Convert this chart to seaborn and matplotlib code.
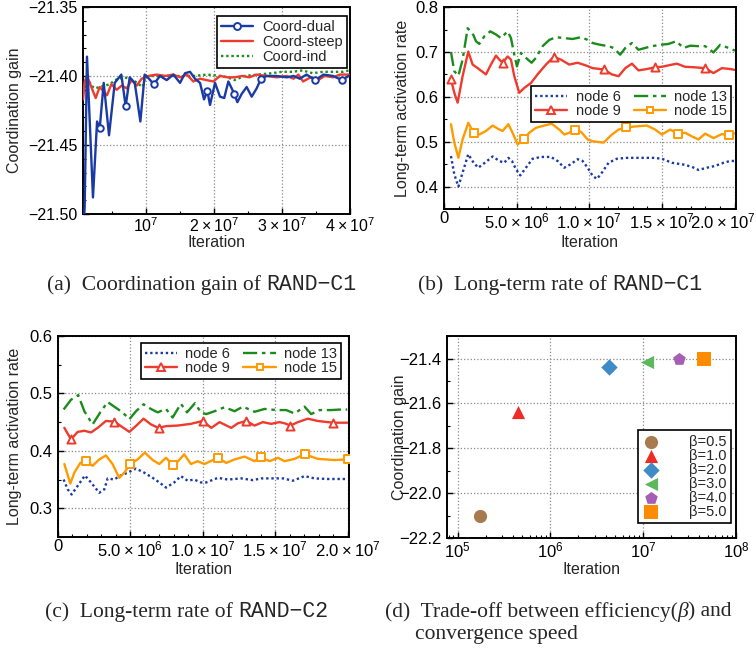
import numpy as np
import pandas as pd
import matplotlib
matplotlib.use('Agg')
import matplotlib.pyplot as plt
import matplotlib.ticker as mticker
import matplotlib.transforms as mtransforms
from matplotlib.lines import Line2D
import seaborn as sns

# ---- (a) coordination gain of RAND-C1, x in units of 1e7 ----
dual_x = [0.08, 0.098, 0.132, 0.22, 0.28, 0.319, 0.378, 0.456, 0.54, 0.637,
          0.701, 0.76, 0.834, 0.917, 0.98, 1.044, 1.113, 1.206, 1.304, 1.402,
          1.5, 1.574, 1.647, 1.72, 1.794, 1.853, 1.902, 1.941, 2.015, 2.088,
          2.15, 2.211, 2.299, 2.343, 2.407, 2.48, 2.554, 2.627, 2.691, 2.775,
          2.92, 3.07, 3.17, 3.26, 3.36, 3.49, 3.61, 3.75, 3.88, 3.98]
dual_y = [-21.51, -21.495, -21.386, -21.488, -21.433, -21.438, -21.405, -21.443, -21.405, -21.399,
          -21.422, -21.401, -21.405, -21.433, -21.399, -21.402, -21.406, -21.400, -21.403, -21.399,
          -21.405, -21.398, -21.397, -21.402, -21.405, -21.417, -21.411, -21.421, -21.405, -21.415,
          -21.416, -21.404, -21.413, -21.419, -21.413, -21.408, -21.415, -21.409, -21.402, -21.400,
          -21.400, -21.401, -21.400, -21.402, -21.399, -21.403, -21.399, -21.400, -21.403, -21.400]
dual_marks = [0.319, 0.701, 1.113, 1.902, 2.299, 2.691, 3.49, 3.88]

steep_x = [0.075, 0.098, 0.132, 0.18, 0.26, 0.319, 0.426, 0.49, 0.569, 0.642,
           0.716, 0.789, 0.863, 0.936, 1.034, 1.157, 1.28, 1.402, 1.5, 1.6,
           1.696, 1.794, 1.892, 1.99, 2.088, 2.2, 2.3, 2.42, 2.52, 2.627,
           2.775, 2.92, 3.07, 3.17, 3.24, 3.31, 3.42, 3.53, 3.63, 3.75, 3.85, 3.98]
steep_y = [-21.417, -21.404, -21.400, -21.406, -21.416, -21.408, -21.414, -21.406, -21.410, -21.407,
           -21.409, -21.403, -21.407, -21.402, -21.400, -21.399, -21.400, -21.399, -21.401, -21.399,
           -21.404, -21.402, -21.403, -21.404, -21.400, -21.401, -21.401, -21.400, -21.401, -21.399,
           -21.400, -21.401, -21.400, -21.402, -21.399, -21.404, -21.401, -21.403, -21.400, -21.401,
           -21.399, -21.399]

ind_x = [0.075, 0.098, 0.132, 0.196, 0.245, 0.32, 0.47, 0.54, 0.61, 0.68,
         0.76, 0.84, 0.95, 0.99, 1.1, 1.3, 1.5, 1.7, 1.9, 2.1,
         2.2, 2.3, 2.45, 2.65, 2.85, 3.0, 3.15, 3.3, 3.45, 3.6, 3.75, 3.9, 3.98]
ind_y = [-21.412, -21.410, -21.401, -21.407, -21.409, -21.408, -21.406, -21.403, -21.402, -21.401,
         -21.402, -21.404, -21.408, -21.401, -21.400, -21.400, -21.400, -21.400, -21.399, -21.400,
         -21.401, -21.403, -21.400, -21.399, -21.398, -21.397, -21.397, -21.396, -21.398, -21.397,
         -21.397, -21.397, -21.396]

# ---- (b) long-term rate of RAND-C1, x in units of 1e6 ----
b6_x = [0.48, 0.71, 0.99, 1.28, 1.67, 2.04, 2.36, 2.89, 3.35, 3.81,
        4.15, 4.43, 4.68, 4.95, 5.25, 5.64, 6.1, 6.67, 7.36, 7.82,
        8.28, 8.74, 9.2, 9.54, 9.89, 10.23, 10.53, 10.87, 11.33, 11.9,
        12.59, 13.51, 14.42, 15.0, 15.69, 16.49, 17.06, 17.52, 18.1, 18.67,
        19.24, 19.7, 20.05]
b6_y = [0.468, 0.427, 0.40, 0.431, 0.472, 0.453, 0.442, 0.455, 0.467, 0.457,
        0.453, 0.464, 0.457, 0.439, 0.425, 0.442, 0.462, 0.466, 0.466, 0.457,
        0.442, 0.45, 0.461, 0.457, 0.442, 0.424, 0.417, 0.431, 0.453, 0.462,
        0.464, 0.464, 0.464, 0.462, 0.453, 0.449, 0.444, 0.437, 0.442, 0.446,
        0.453, 0.457, 0.457]

b9_x = [0.48, 0.71, 0.94, 1.28, 1.67, 1.97, 2.32, 2.89, 3.23, 3.58,
        3.81, 4.04, 4.38, 4.61, 4.84, 5.18, 5.53, 5.99, 6.44, 7.02,
        7.55, 8.05, 8.62, 9.2, 9.77, 10.23, 10.99, 11.56, 12.02, 12.48,
        12.94, 13.39, 13.97, 14.54, 15.0, 15.57, 16.03, 16.6, 17.18, 17.98,
        18.55, 19.13, 19.7, 20.05]
b9_y = [0.639, 0.609, 0.587, 0.646, 0.701, 0.672, 0.664, 0.65, 0.672, 0.692,
        0.683, 0.676, 0.69, 0.683, 0.646, 0.609, 0.62, 0.631, 0.65, 0.672,
        0.689, 0.683, 0.672, 0.676, 0.67, 0.664, 0.661, 0.65, 0.646, 0.664,
        0.674, 0.659, 0.662, 0.666, 0.667, 0.671, 0.674, 0.667, 0.666, 0.664,
        0.653, 0.664, 0.662, 0.66]
b9_marks = [0.48, 4.04, 7.55, 10.99, 14.54, 17.98]

b13_x = [0.48, 0.71, 0.99, 1.28, 1.63, 2.02, 2.2, 2.43, 2.78, 3.19,
         3.58, 3.92, 4.38, 4.61, 4.84, 5.02, 5.3, 5.6, 6.03, 6.33,
         6.79, 7.25, 7.71, 8.28, 8.85, 9.43, 9.89, 10.23, 10.76, 11.33,
         11.67, 12.13, 12.48, 12.94, 13.39, 13.85, 14.31, 14.88, 15.46, 15.99,
         16.49, 16.95, 17.52, 17.98, 18.55, 19.01, 19.59, 20.05]
b13_y = [0.700, 0.657, 0.647, 0.683, 0.753, 0.738, 0.724, 0.718, 0.735, 0.746,
         0.739, 0.731, 0.746, 0.731, 0.694, 0.668, 0.698, 0.688, 0.676, 0.687,
         0.713, 0.727, 0.733, 0.731, 0.729, 0.733, 0.727, 0.72, 0.716, 0.713,
         0.709, 0.694, 0.709, 0.72, 0.705, 0.709, 0.713, 0.716, 0.718, 0.724,
         0.709, 0.714, 0.713, 0.713, 0.699, 0.716, 0.709, 0.703]

b15_x = [0.48, 0.71, 0.99, 1.28, 1.67, 2.04, 2.43, 2.89, 3.35, 3.81,
         4.04, 4.43, 4.72, 5.07, 5.53, 5.87, 6.33, 6.9, 7.41, 7.94,
         8.28, 8.62, 9.04, 9.43, 9.89, 10.23, 10.99, 11.56, 12.02, 12.55,
         13.17, 13.97, 14.54, 15.0, 15.57, 16.08, 16.6, 17.06, 17.52, 17.98,
         18.55, 19.13, 19.59, 20.05]
b15_y = [0.539, 0.498, 0.464, 0.505, 0.542, 0.52, 0.516, 0.524, 0.536, 0.527,
         0.524, 0.539, 0.52, 0.494, 0.507, 0.52, 0.531, 0.536, 0.54, 0.527,
         0.516, 0.52, 0.527, 0.522, 0.505, 0.501, 0.498, 0.516, 0.527, 0.532,
         0.534, 0.536, 0.527, 0.516, 0.527, 0.518, 0.52, 0.512, 0.505, 0.518,
         0.508, 0.517, 0.514, 0.519]
b15_marks = [2.04, 5.53, 9.04, 12.55, 16.08, 19.59]

# ---- (c) long-term rate of RAND-C2, x in units of 1e6 ----
c6_x = [0.39, 0.67, 0.94, 1.36, 1.86, 2.28, 2.85, 3.2, 3.43, 3.89,
        4.23, 4.81, 5.39, 5.96, 6.54, 7.0, 7.46, 8.03, 8.49, 8.95,
        9.41, 9.87, 10.24, 11.05, 11.74, 12.66, 13.46, 14.04, 14.73, 15.54,
        16.23, 17.03, 17.72, 18.64, 19.98]
c6_y = [0.35, 0.333, 0.324, 0.339, 0.357, 0.345, 0.327, 0.333, 0.352, 0.35,
        0.356, 0.362, 0.369, 0.362, 0.353, 0.345, 0.336, 0.345, 0.356, 0.348,
        0.35, 0.345, 0.345, 0.353, 0.35, 0.352, 0.349, 0.352, 0.352, 0.352,
        0.348, 0.356, 0.352, 0.351, 0.351]

c9_x = [0.44, 0.9, 1.36, 1.82, 2.28, 2.74, 3.31, 3.89, 4.35, 4.93,
        5.5, 5.91, 6.42, 6.95, 7.46, 8.26, 9.18, 9.99, 10.59, 11.16,
        11.97, 12.43, 13.0, 13.58, 14.15, 14.73, 15.3, 15.65, 16.06, 16.57,
        17.26, 17.95, 18.99, 19.98]
c9_y = [0.44, 0.42, 0.433, 0.435, 0.432, 0.44, 0.452, 0.451, 0.443, 0.433,
        0.446, 0.456, 0.446, 0.44, 0.443, 0.444, 0.447, 0.452, 0.44, 0.45,
        0.44, 0.448, 0.452, 0.444, 0.45, 0.447, 0.45, 0.448, 0.444, 0.45,
        0.456, 0.452, 0.449, 0.449]
c9_marks = [0.9, 3.89, 6.95, 9.99, 13.0, 16.06, 18.99]

c13_x = [0.39, 0.9, 1.4, 1.82, 2.39, 2.92, 3.43, 4.0, 4.46, 4.93,
         5.39, 5.91, 6.42, 6.88, 7.46, 7.92, 8.49, 8.91, 9.46, 9.87,
         10.24, 10.82, 11.51, 12.2, 12.77, 13.58, 14.27, 15.07, 15.77, 16.34,
         17.03, 17.49, 18.07, 18.87, 19.56, 19.98]
c13_y = [0.472, 0.489, 0.497, 0.469, 0.446, 0.467, 0.485, 0.475, 0.467, 0.455,
         0.469, 0.481, 0.473, 0.467, 0.473, 0.458, 0.482, 0.467, 0.483, 0.467,
         0.464, 0.469, 0.476, 0.469, 0.477, 0.468, 0.473, 0.471, 0.471, 0.465,
         0.477, 0.464, 0.471, 0.471, 0.472, 0.472]

c15_x = [0.44, 0.85, 1.13, 1.54, 1.93, 2.39, 2.85, 3.31, 3.77, 4.23,
         4.58, 5.0, 5.5, 6.0, 6.54, 7.0, 7.46, 7.96, 8.3, 8.72,
         9.18, 9.64, 10.12, 11.05, 11.62, 12.2, 12.89, 13.58, 13.99, 14.62,
         15.19, 15.65, 16.34, 17.03, 17.95, 19.1, 20.02]
c15_y = [0.377, 0.343, 0.362, 0.379, 0.382, 0.374, 0.385, 0.392, 0.377, 0.353,
         0.362, 0.377, 0.385, 0.397, 0.384, 0.377, 0.388, 0.375, 0.382, 0.394,
         0.377, 0.382, 0.377, 0.388, 0.379, 0.385, 0.39, 0.382, 0.389, 0.382,
         0.388, 0.382, 0.386, 0.394, 0.386, 0.384, 0.385]
c15_marks = [1.93, 5.0, 7.96, 11.05, 13.99, 17.03, 20.02]

# ---- (d) trade-off ----
beta_labels = ['β=0.5', 'β=1.0', 'β=2.0', 'β=3.0', 'β=4.0', 'β=5.0']
beta_iter = [1.76e5, 4.5e5, 4.27e6, 1.1e7, 2.43e7, 4.48e7]
beta_gain = [-22.10, -21.637, -21.439, -21.413, -21.403, -21.400]
beta_markers = ['o', '^', 'D', '<', 'p', 's']
beta_colors = ['#a87b4f', '#ee2b24', '#3d8cc8', '#5cb85c', '#a45fb5', '#ff8c00']

BLUE = '#1a3aa5'
RED = '#ee3b2e'
GREEN = '#1b8c1b'
ORANGE = '#ff9a00'
DOTS = (0, (1, 1.2))
DASHDOT = (0, (6, 2, 1.5, 2))

sns.set_theme(style='ticks')
plt.rcParams.update({
    'xtick.direction': 'in', 'ytick.direction': 'in',
    'xtick.major.size': 4, 'ytick.major.size': 4,
    'xtick.minor.size': 2.5, 'ytick.minor.size': 2.5,
    'xtick.major.width': 1.0, 'ytick.major.width': 1.0,
    'xtick.minor.width': 0.8, 'ytick.minor.width': 0.8,
    'xtick.labelsize': 12, 'ytick.labelsize': 12,
    'axes.labelsize': 11.5, 'axes.linewidth': 1.4,
    'axes.edgecolor': 'black', 'xtick.color': 'black', 'ytick.color': 'black',
    'mathtext.default': 'regular', 'legend.fontsize': 10.5,
})
plt.rcParams['font.family'] = ['Liberation Sans', 'DejaVu Sans']


def draw_series(ax, xs, ys, scale, color, ls, marks=None, marker=None, ms=26, z=2):
    df = pd.DataFrame({'x': np.array(xs) * scale, 'y': ys})
    sns.lineplot(data=df, x='x', y='y', ax=ax, color=color, linestyle=ls,
                 linewidth=1.7, estimator=None, sort=False, zorder=z)
    if marks is not None:
        sub = df[np.isin(xs, marks)]
        sns.scatterplot(data=sub, x='x', y='y', ax=ax, marker=marker, s=ms,
                        facecolor='white', edgecolor=color, linewidth=1.4, zorder=z + 1)


def proxy(color, ls, marker=None, ms=5.5):
    return Line2D([], [], color=color, linestyle=ls, linewidth=1.7, marker=marker,
                  markersize=ms, markerfacecolor='white', markeredgecolor=color,
                  markeredgewidth=1.4)


def style_legend(leg):
    leg.get_frame().set_edgecolor('black')
    leg.get_frame().set_linewidth(1.2)
    leg.get_frame().set_boxstyle('square', pad=0)


def fmt_minus(fmt):
    return mticker.FuncFormatter(lambda v, p: (fmt % v).replace('-', '\u2212'))


fig = plt.figure(figsize=(7.56, 6.49), dpi=100)
ax_a = fig.add_axes([0.1098, 0.6703, 0.3532, 0.319])
ax_b = fig.add_axes([0.5873, 0.678, 0.3862, 0.311])
ax_c = fig.add_axes([0.0767, 0.1726, 0.3849, 0.3097])
ax_d = fig.add_axes([0.5913, 0.171, 0.3823, 0.311])

for ax in (ax_a, ax_b, ax_c, ax_d):
    ax.grid(True, which='major', linestyle=':', color='#8a8a8a', linewidth=0.9)
    ax.set_axisbelow(True)

# (a)
draw_series(ax_a, ind_x, ind_y, 1e7, GREEN, DOTS, z=2)
draw_series(ax_a, steep_x, steep_y, 1e7, RED, '-', z=3)
draw_series(ax_a, dual_x, dual_y, 1e7, BLUE, '-', dual_marks, 'o', ms=22, z=4)
ax_a.set_xlim(7.35e5, 4e7)
ax_a.set_ylim(-21.50, -21.35)
ax_a.set_xticks([1e7, 2e7, 3e7, 4e7])
ax_a.set_xticklabels([r'$10^7$', r'$2\times10^7$', r'$3\times10^7$', r'$4\times10^7$'])
ax_a.xaxis.set_minor_locator(mticker.FixedLocator([5e6, 1.5e7, 2.5e7, 3.5e7]))
ax_a.set_yticks([-21.50, -21.45, -21.40, -21.35])
ax_a.yaxis.set_major_formatter(fmt_minus('%.2f'))
ax_a.yaxis.set_minor_locator(mticker.MultipleLocator(0.01))
ax_a.tick_params(labelsize=11.5)
ax_a.set_xlabel('Iteration')
ax_a.set_ylabel('Coordination gain')
ax_a.yaxis.set_label_coords(-0.228, 0.5)
ax_a.xaxis.set_label_coords(0.5, -0.101)
leg = ax_a.legend([proxy(BLUE, '-', 'o', 5), proxy(RED, '-'), proxy(GREEN, DOTS)],
                  ['Coord-dual', 'Coord-steep', 'Coord-ind'],
                  loc='upper right', bbox_to_anchor=(0.989, 0.957), borderaxespad=0,
                  handlelength=2.2, handletextpad=0.6, labelspacing=0.05,
                  borderpad=0.3, fancybox=False, framealpha=1)
style_legend(leg)

# (b)
draw_series(ax_b, b6_x, b6_y, 1e6, BLUE, DOTS)
draw_series(ax_b, b15_x, b15_y, 1e6, ORANGE, '-', b15_marks, 's', ms=30)
draw_series(ax_b, b9_x, b9_y, 1e6, RED, '-', b9_marks, '^', ms=34)
draw_series(ax_b, b13_x, b13_y, 1e6, GREEN, DASHDOT)

# (c)
draw_series(ax_c, c6_x, c6_y, 1e6, BLUE, DOTS)
draw_series(ax_c, c15_x, c15_y, 1e6, ORANGE, '-', c15_marks, 's', ms=30)
draw_series(ax_c, c9_x, c9_y, 1e6, RED, '-', c9_marks, '^', ms=34)
draw_series(ax_c, c13_x, c13_y, 1e6, GREEN, DASHDOT)

node_handles = [proxy(BLUE, DOTS), proxy(RED, '-', '^'), proxy(GREEN, DASHDOT), proxy(ORANGE, '-', 's', 5)]
node_labels = ['node 6', 'node 9', 'node 13', 'node 15']
sci = lambda a, b: r'$%s\times10^%d$' % (a, b)
for ax, ylim, yt, lx, ly, anchor in ((ax_b, (0.35, 0.8), [0.4, 0.5, 0.6, 0.7, 0.8], -0.116, -0.129, (0.983, 0.609)),
                                     (ax_c, (0.25, 0.6), [0.3, 0.4, 0.5, 0.6], -0.124, -0.124, (0.9725, 0.965))):
    ax.set_xlim(0, 2.01e7)
    ax.set_ylim(*ylim)
    ax.set_xticks([0, 5e6, 1e7, 1.5e7, 2e7])
    ax.set_xticklabels(['0', sci('5.0', 6), sci('1.0', 7), sci('1.5', 7), sci('2.0', 7)])
    ax.xaxis.set_minor_locator(mticker.MultipleLocator(1e6))
    ax.set_yticks(yt)
    ax.yaxis.set_major_formatter(fmt_minus('%.1f'))
    ax.yaxis.set_minor_locator(mticker.MultipleLocator(0.05))
    ax.set_xlabel('Iteration')
    ax.set_ylabel('Long-term activation rate')
    ax.yaxis.set_label_coords(lx, 0.5)
    ax.xaxis.set_label_coords(0.5, ly)
    leg = ax.legend(node_handles, node_labels, ncol=2, loc='upper right',
                    bbox_to_anchor=anchor, borderaxespad=0, handlelength=2.2,
                    handletextpad=0.6, columnspacing=0.9, labelspacing=0.05,
                    borderpad=0.25, fancybox=False, framealpha=1)
    style_legend(leg)

# (d)
for lab, xi, yi, m, c in zip(beta_labels, beta_iter, beta_gain, beta_markers, beta_colors):
    size = 70 if m == 'D' else 90
    sns.scatterplot(x=[xi], y=[yi], ax=ax_d, marker=m, color=c, s=size,
                    linewidth=0, label=lab, zorder=3)
ax_d.set_xscale('log')
ax_d.set_xlim(7.7e4, 1e8)
ax_d.set_ylim(-22.2, -21.3)
ax_d.set_xticks([1e5, 1e6, 1e7, 1e8])
ax_d.set_xticklabels([r'$10^5$', r'$10^6$', r'$10^7$', r'$10^8$'])
ax_d.xaxis.set_minor_locator(mticker.LogLocator(base=10, subs=np.arange(2, 10)))
ax_d.xaxis.set_minor_formatter(mticker.NullFormatter())
ax_d.set_yticks([-22.2, -22.0, -21.8, -21.6, -21.4])
ax_d.yaxis.set_major_formatter(fmt_minus('%.1f'))
ax_d.yaxis.set_minor_locator(mticker.MultipleLocator(0.1))
ax_d.set_xlabel('Iteration')
ax_d.set_ylabel('Coordination gain')
ax_d.yaxis.set_label_coords(-0.138, 0.5)
ax_d.xaxis.set_label_coords(0.5, -0.119)
leg = ax_d.legend(loc='lower right', bbox_to_anchor=(0.983, 0.074), borderaxespad=0,
                  handletextpad=2.0, labelspacing=0.0, borderpad=0.3,
                  handlelength=1.2, fancybox=False, framealpha=1)
style_legend(leg)

for ax in (ax_a, ax_b, ax_c, ax_d):
    ax.tick_params(which='both', top=False, right=False)
    ax.tick_params(axis='x', which='major', pad=1.5)
    ax.tick_params(axis='y', which='major', pad=4)

# keep the last tick label of (b) inside the figure, as in the reference
last = ax_b.get_xticklabels()[-1]
last.set_transform(last.get_transform() +
                   mtransforms.ScaledTranslation(-8 / 72, 0, fig.dpi_scale_trans))

# captions: serif text pieces chained left to right
renderer = fig.canvas.get_renderer()
W = fig.get_figwidth() * fig.dpi
SERIF = ['Liberation Serif', 'DejaVu Serif']
MONO = ['Liberation Mono', 'DejaVu Sans Mono']


def caption(x, y, parts):
    for text, fam, style in parts:
        t = fig.text(x, y, text, family=fam, style=style, fontsize=15.5, va='baseline')
        x = t.get_window_extent(renderer).x1 / W


caption(0.062, 0.553, [('(a)  Coordination gain of ', SERIF, 'normal'), ('RAND\u2212C1', MONO, 'normal')])
caption(0.553, 0.553, [('(b)  Long-term rate of ', SERIF, 'normal'), ('RAND\u2212C1', MONO, 'normal')])
caption(0.060, 0.050, [('(c)  Long-term rate of ', SERIF, 'normal'), ('RAND\u2212C2', MONO, 'normal')])
caption(0.509, 0.050, [('(d)  Trade-off between efficiency(', SERIF, 'normal'),
                       ('β', SERIF, 'italic'), (') and', SERIF, 'normal')])
caption(0.549, 0.016, [('convergence speed', SERIF, 'normal')])

fig.savefig('out.png', dpi=100)
